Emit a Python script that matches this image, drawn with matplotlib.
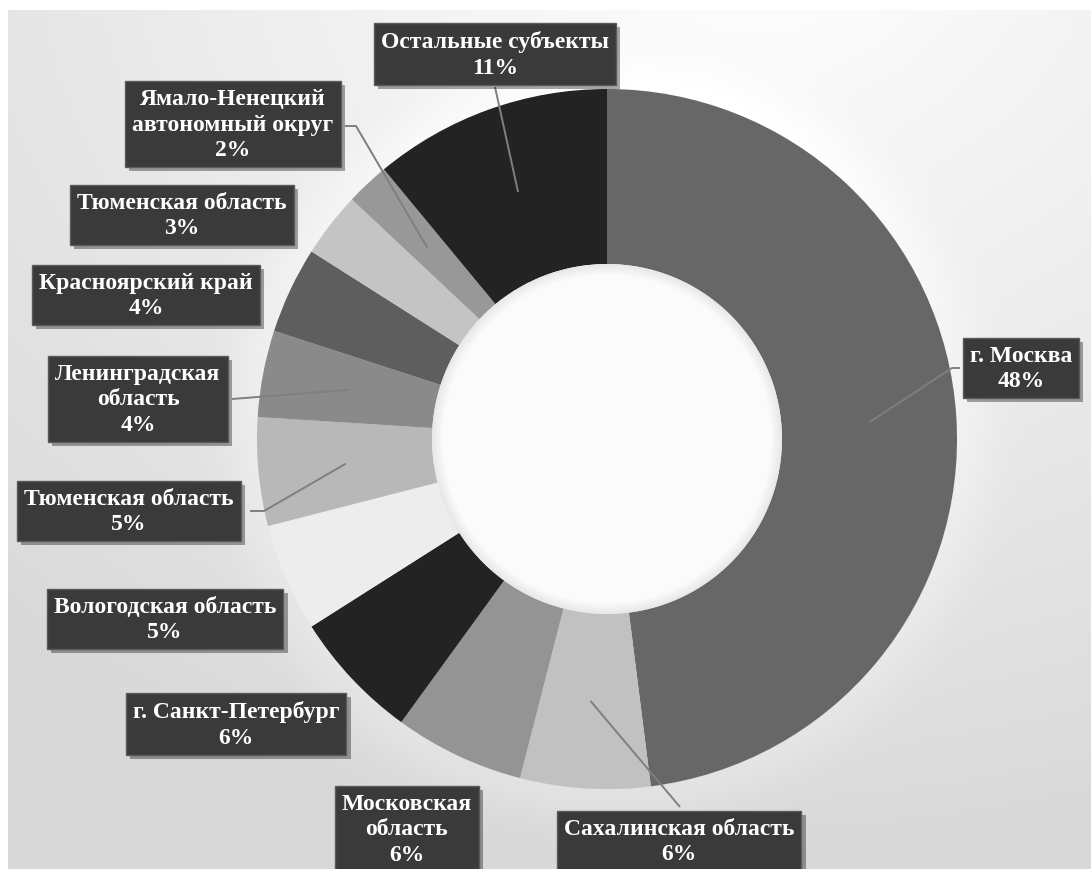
import numpy as np
import matplotlib
matplotlib.use("Agg")
import matplotlib.pyplot as plt
import matplotlib.patheffects as pe
from matplotlib.patches import Circle

# --- data (clockwise from 12 o'clock) ---
regions = [
    "г. Москва",
    "Сахалинская область",
    "Московская\nобласть",
    "г. Санкт-Петербург",
    "Вологодская область",
    "Тюменская область",
    "Ленинградская\nобласть",
    "Красноярский край",
    "Тюменская область",
    "Ямало-Ненецкий\nавтономный округ",
    "Остальные субъекты",
]
shares = [48, 6, 6, 6, 5, 5, 4, 4, 3, 2, 11]
colors = ["#676767", "#c1c1c1", "#949494", "#232323", "#ededed", "#b8b8b8",
          "#8a8a8a", "#5e5e5e", "#c4c4c4", "#989898", "#232323"]

# --- layout (pixel coords, y from top) ---
W, H = 1091, 870
cx, cy = 607, 440
R_out, R_in = 350, 175
label_pos = [(1021, 369), (679, 842), (407, 830), (236, 725), (165, 620),
             (129, 512), (138, 400), (146, 296), (182, 216), (233, 125), (495, 55)]
# leader end on the box, optional knee point
leaders = {
    0: [(952, 369), (960, 369)],
    1: [(680, 808)],
    5: [(264, 512), (250, 512)],
    6: [(232, 400)],
    9: [(356, 127), (345, 127)],
    10: [(495, 88)],
}


def py(y):
    return H - y


fig = plt.figure(figsize=(W / 100, H / 100), dpi=100)
ax = fig.add_axes([0, 0, 1, 1])

# background gradient
xx, yy = np.meshgrid(np.arange(W), np.arange(H))
d = np.hypot((xx - 760) / W, (yy + 60) / H)
bg = 1.0 - 0.15 * np.clip(d / 1.05, 0, 1)
halo = np.hypot(xx - cx, yy - cy)
bg = bg + 0.03 * np.exp(-((halo - R_out) / 35.0) ** 2) * (halo > R_out)
bg = np.clip(bg, 0, 1)
bg[:, :8] = 1.0
bg[:11, :] = 1.0
ax.imshow(np.dstack([bg, bg, bg]), extent=(0, W, 0, H), origin="upper", zorder=0)

wedges, _ = ax.pie(shares, colors=colors, startangle=90, counterclock=False,
                   radius=R_out, center=(cx, py(cy)),
                   wedgeprops=dict(width=R_out - R_in, linewidth=0))
for w in wedges:
    w.set_zorder(2)

# inner hole with soft shading
for k, c in enumerate(np.linspace(0.91, 0.985, 8)):
    ax.add_patch(Circle((cx, py(cy)), R_in - k * 1.5, fc=str(c), ec="none", zorder=3))
ax.add_patch(Circle((cx, py(cy)), R_in - 14, fc="#fbfbfb", ec="none", zorder=3))

# labels
for i, (name, val) in enumerate(zip(regions, shares)):
    lx, ly = label_pos[i]
    if i in leaders:
        w = wedges[i]
        mid = np.deg2rad((w.theta1 + w.theta2) / 2)
        r = (R_out + R_in) / 2
        sx, sy = cx + r * np.cos(mid), py(cy) + r * np.sin(mid)
        pts = [(sx, sy)] + [(x, py(y)) for x, y in leaders[i]]
        ax.plot([p[0] for p in pts], [p[1] for p in pts], color="#7f7f7f",
                lw=1.4, zorder=4, solid_capstyle="butt")
    t = ax.text(lx, py(ly), f"{name}\n{val}%", ha="center", va="center",
                color="white", fontweight="bold", family="Liberation Serif",
                fontsize=17, linespacing=1.28, zorder=6,
                bbox=dict(boxstyle="square,pad=0.3", fc="#3a3a3a", ec="#5a5a5a", lw=1))
    t.get_bbox_patch().set_path_effects(
        [pe.SimplePatchShadow(offset=(3, -3), shadow_rgbFace="black", alpha=0.35), pe.Normal()])

ax.set_xlim(0, W)
ax.set_ylim(0, H)
ax.set_aspect("auto")
ax.axis("off")

fig.savefig("out.png", dpi=100)
